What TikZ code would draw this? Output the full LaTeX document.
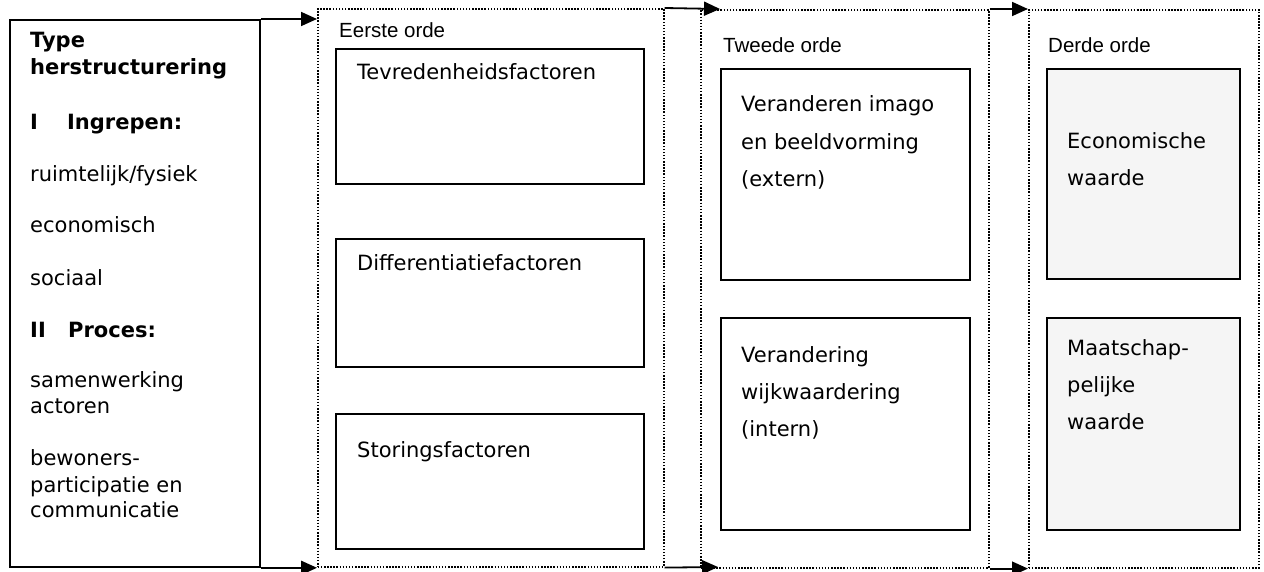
\documentclass[tikz,border=0pt]{standalone}
\usepackage{fontspec}
\setmainfont{DejaVu Sans}
\newfontfamily\headfont{Liberation Sans}
\usetikzlibrary{arrows.meta}

\begin{document}
\begin{tikzpicture}[x=1pt,y=-1pt,
  solidbox/.style={draw, line width=1.8pt, inner sep=0pt, anchor=north west},
  graybox/.style={solidbox, fill=black!4},
  framebox/.style={draw, line width=1.6pt, dash pattern=on 1.5pt off 1.6pt, inner sep=0pt, anchor=north west},
  arr/.style={line width=1.8pt, -{Triangle[length=16pt,width=14pt]}},
  body/.style={anchor=base west, inner sep=0pt, font=\fontsize{21}{26}\selectfont},
  head/.style={anchor=base west, inner sep=0pt, font=\headfont\fontsize{20.5}{24}\selectfont},
]
\useasboundingbox (0,0) rectangle (1264,572);

% left column: type of restructuring
\node[solidbox, minimum width=250pt, minimum height=547pt] (typebox) at (9,19) {};
\node[body] (l0)  at (30,48)  {\textbf{Type}};
\node[body] (l1)  at (30,75)  {\textbf{herstructurering}};
\node[body] (l2)  at (30,130) {\textbf{\makebox[37pt][l]{I}Ingrepen:}};
\node[body] (l3)  at (30,182) {ruimtelijk/fysiek};
\node[body] (l4)  at (30,233) {economisch};
\node[body] (l5)  at (30,285) {sociaal};
\node[body] (l6)  at (30,337) {\textbf{\makebox[38pt][l]{II}Proces:}};
\node[body] (l7)  at (30,387) {samenwerking};
\node[body] (l8)  at (30,413) {actoren};
\node[body] (l9)  at (30,465) {bewoners-};
\node[body] (l10) at (30,492) {participatie en};
\node[body] (l11) at (30,517) {communicatie};

% dotted frames for the three orders
\node[framebox, minimum width=346pt, minimum height=558pt] (f1) at (317,8) {};
\node[framebox, minimum width=288pt, minimum height=558pt] (f2) at (700,9) {};
\node[framebox, minimum width=230pt, minimum height=558pt] (f3) at (1028,9) {};

\node[head] (h1) at (339,38) {Eerste orde};
\node[head] (h2) at (723,53) {Tweede orde};
\node[head] (h3) at (1048,53) {Derde orde};

% first order
\node[solidbox, minimum width=308pt, minimum height=135pt] (b11) at (335,48) {};
\node[solidbox, minimum width=308pt, minimum height=128pt] (b12) at (335,238) {};
\node[solidbox, minimum width=308pt, minimum height=135pt] (b13) at (335,413) {};
\node[body] (t11) at (357,80)  {Tevredenheidsfactoren};
\node[body] (t12) at (357,270) {Differentiatiefactoren};
\node[body] (t13) at (357,457) {Storingsfactoren};

% second order
\node[solidbox, minimum width=249pt, minimum height=211pt] (b21) at (720,68) {};
\node[solidbox, minimum width=249pt, minimum height=212pt] (b22) at (720,317) {};
\node[body] (t21a) at (741,112) {Veranderen imago};
\node[body] (t21b) at (741,150) {en beeldvorming};
\node[body] (t21c) at (741,187) {(extern)};
\node[body] (t22a) at (741,362) {Verandering};
\node[body] (t22b) at (741,399) {wijkwaardering};
\node[body] (t22c) at (741,436) {(intern)};

% third order
\node[graybox, minimum width=193pt, minimum height=210pt] (b31) at (1046,68) {};
\node[graybox, minimum width=193pt, minimum height=212pt] (b32) at (1046,317) {};
\node[body] (t31a) at (1067,149) {Economische};
\node[body] (t31b) at (1067,186) {waarde};
\node[body] (t32a) at (1067,355) {Maatschap-};
\node[body] (t32b) at (1067,392) {pelijke};
\node[body] (t32c) at (1067,429) {waarde};

% connecting arrows along top and bottom edges
\coordinate (tip1t) at (720,9);
\coordinate (tip1b) at (718,567);
\draw[arr] (typebox.north east) -- (typebox.north east -| f1.west);
\draw[arr] (typebox.south east) -- (typebox.south east -| f1.west);
\draw[arr] (f1.north east) -- (tip1t);
\draw[arr] (f1.south east) -- (tip1b);
\draw[arr] (f2.north east) -- (f2.north east -| f3.west);
\draw[arr] (f2.south east) -- (f2.south east -| f3.west);
\end{tikzpicture}
\end{document}
